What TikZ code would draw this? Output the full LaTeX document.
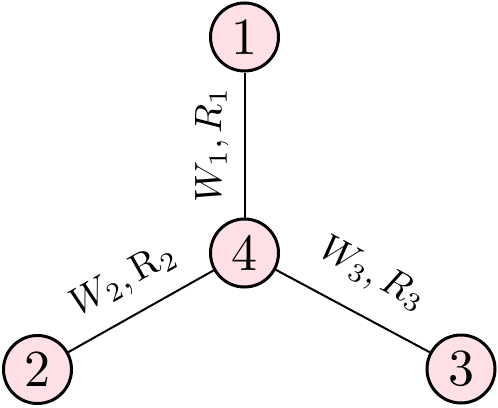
\documentclass[tikz,border=0pt]{standalone}
\begin{document}
\definecolor{nodepink}{RGB}{255,224,230}
\newcommand{\vtxt}[1]{\scalebox{2.6}{#1}}
\newcommand{\ltxt}[1]{\scalebox{1.9}{#1}}
\begin{tikzpicture}[x=0.5pt,y=-0.5pt,
  vert/.style={circle, draw, line width=1.5pt, fill=nodepink, minimum size=34pt, inner sep=0pt},
  edge/.style={line width=1pt},
  lab/.style={sloped, inner sep=3pt}]
\useasboundingbox (0,0) rectangle (498,407);
\node[vert] (n1) at (244.5,37) {\vtxt{1}};
\node[vert] (n4) at (244.5,253) {\vtxt{4}};
\node[vert] (n2) at (37.5,369.5) {\vtxt{2}};
\node[vert] (n3) at (461,369) {\vtxt{3}};
\draw[edge] (n4) -- node[lab, above=4.5pt] {\ltxt{$W_1, R_1$}} (n1);
\draw[edge] (n2) -- node[lab, above=6pt] {\ltxt{$W_2, \mathrm{R}_2$}} (n4);
\draw[edge] (n4) -- node[lab, above=9pt] {\ltxt{$W_3, R_3$}} (n3);
\end{tikzpicture}
\end{document}
